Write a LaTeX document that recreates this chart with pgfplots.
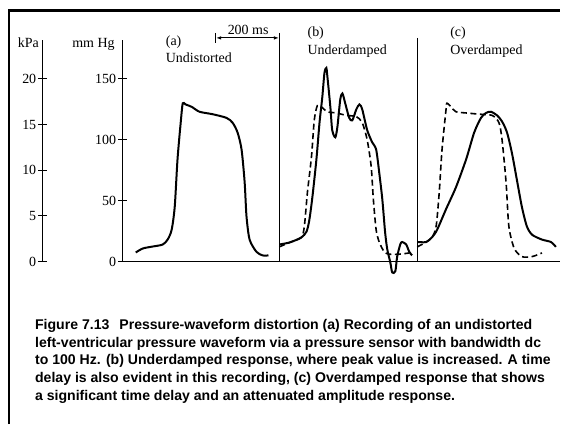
\documentclass[border=0pt]{standalone}
\usepackage{fontspec}
\setmainfont{Liberation Serif}
\newfontfamily\capfont{Liberation Sans}
\usepackage{pgfplots}
\usepackage{pgfplotstable}
\pgfplotsset{compat=1.18}
\usetikzlibrary{arrows.meta}

% time in ms (0 = mm Hg axis), pressure in mm Hg
\pgfplotstableread{
t p
42 7.4
65 10.7
97 12.3
129 13.9
145 18
158 26
168 45
177 84
188 116
194 130
203 129
223 127
248 123
290 121
335 118
355 114
371 106
384 92
394 65
400 37
410 18
432 8
452 5
471 5
}\undist

\pgfplotstableread{
t p
506 14
539 15.6
577 19.7
594 24.6
603 34
613 53
626 84
636 114
645 135
652 155
658 159
661 153
671 127
677 108
687 102
694 111
703 133
710 138
719 130
732 118
742 116
755 125
765 129
774 125
790 108
806 98
819 92
829 73
839 51
848 24
855 10
865 -1
871 -9
881 -8
887 4
897 14
903 16
916 14
926 8
935 5
}\underS

\pgfplotstableread{
t p
506 12
539 15.6
577 19.7
587 29
597 57
610 86
619 116
629 128
642 127
661 123
690 122
723 120
755 119
774 114
790 100
803 78
810 51
819 26
829 16
845 8
861 6
894 6
926 7
}\underD

\pgfplotstableread{
t p
952 12
981 16
1000 20
1013 29
1023 57
1032 92
1045 125
1048 130
1061 127
1077 123
1110 122
1152 121
1194 120
1216 114
1226 100
1239 65
1248 29
1265 11
1290 4
1323 4
1345 6
1355 7
}\overD

\pgfplotstableread{
t p
952 16
981 16
1000 20
1016 26
1045 43
1077 61
1110 84
1136 106
1158 118
1174 122
1190 123
1210 120
1226 115
1242 106
1258 89
1274 67
1290 45
1306 29
1323 22
1355 18
1384 16
1400 12
}\overS

\begin{document}
\begin{tikzpicture}[font=\fontsize{14bp}{16bp}\selectfont]
\path (0,0) rectangle (561bp,425bp);
\draw[line width=2.2bp] (9bp,0) -- (9bp,414.5bp) -- (561bp,414.5bp);

\pgfplotsset{
  panelaxis/.style={
    scale only axis, anchor=south west, height=222bp,
    every tick/.style={black, line width=1.1bp},
    tick align=inside, major tick length=9bp,
    xtick=\empty,
    /pgf/number format/assume math mode=true,
    yticklabel style={font=\fontsize{14bp}{16bp}\selectfont, inner sep=2bp},
    clip=false,
  },
  plainlines/.style={
    axis line style={-, line width=1.1bp},
    every outer x axis line/.append style={-},
    every outer y axis line/.append style={-},
  },
}

% kPa scale
\begin{axis}[panelaxis,
  at={(43bp,163bp)}, width=10bp,
  xmin=0, xmax=1, ymin=0, ymax=24.26,
  axis x line=none, axis y line=left, plainlines,
  ytick={0,5,10,15,20},
]
\end{axis}

% mm Hg scale and traces
\begin{axis}[panelaxis,
  at={(123bp,163bp)}, width=438bp,
  xmin=0, xmax=1413, ymin=0, ymax=182,
  axis x line=bottom, axis y line=left, plainlines,
  ytick={0,50,100,150},
]
\addplot[black, line width=2bp, smooth, tension=0.45] table[x=t,y=p] {\undist};
\addplot[black, line width=2bp, smooth, tension=0.45] table[x=t,y=p] {\underS};
\addplot[black, line width=1.6bp, dash pattern=on 6bp off 3.5bp, smooth, tension=0.45] table[x=t,y=p] {\underD};
\addplot[black, line width=1.6bp, dash pattern=on 6bp off 3.5bp, smooth, tension=0.45] table[x=t,y=p] {\overD};
\addplot[black, line width=2bp, smooth, tension=0.45] table[x=t,y=p] {\overS};
\end{axis}

% dividers and time bar
\draw[line width=1.1bp] (280bp,392bp) -- (280bp,163bp);
\draw[line width=1.1bp] (418bp,387bp) -- (418bp,163bp);
\draw[line width=1bp] (216bp,392bp) -- (216bp,382bp);
\draw[line width=0.9bp, {Latex[length=5bp,width=3.5bp]}-{Latex[length=5bp,width=3.5bp]}] (216.5bp,387bp) -- (279.5bp,387bp);
\node[anchor=base west, inner sep=0] at (228bp,390bp) {200 ms};

% scale names
\node[anchor=base east, inner sep=0] at (39bp,377bp) {kPa};
\node[anchor=base east, inner sep=0] at (115bp,377bp) {mm Hg};

% panel titles
\node[anchor=base west, inner sep=0] at (166bp,379bp) {(a)};
\node[anchor=base west, inner sep=0] at (166bp,362bp) {Undistorted};
\node[anchor=base west, inner sep=0] at (308bp,388bp) {(b)};
\node[anchor=base west, inner sep=0] at (308bp,370bp) {Underdamped};
\node[anchor=base west, inner sep=0] at (451bp,388bp) {(c)};
\node[anchor=base west, inner sep=0] at (451bp,370bp) {Overdamped};

% caption
\begin{scope}[font=\capfont\bfseries\fontsize{14.1bp}{17.75bp}\selectfont]
\node[anchor=base west, inner sep=0] at (35bp,95bp) {Figure 7.13\hspace{10bp}Pressure-waveform distortion (a) Recording of an undistorted};
\node[anchor=base west, inner sep=0] at (35bp,77bp) {left-ventricular pressure waveform via a pressure sensor with bandwidth dc};
\node[anchor=base west, inner sep=0] at (35bp,60bp) {to 100 Hz. (b) Underdamped response, where peak value is increased. A time};
\node[anchor=base west, inner sep=0] at (35bp,42bp) {delay is also evident in this recording, (c) Overdamped response that shows};
\node[anchor=base west, inner sep=0] at (35bp,24bp) {a significant time delay and an attenuated amplitude response.};
\end{scope}
\end{tikzpicture}
\end{document}
